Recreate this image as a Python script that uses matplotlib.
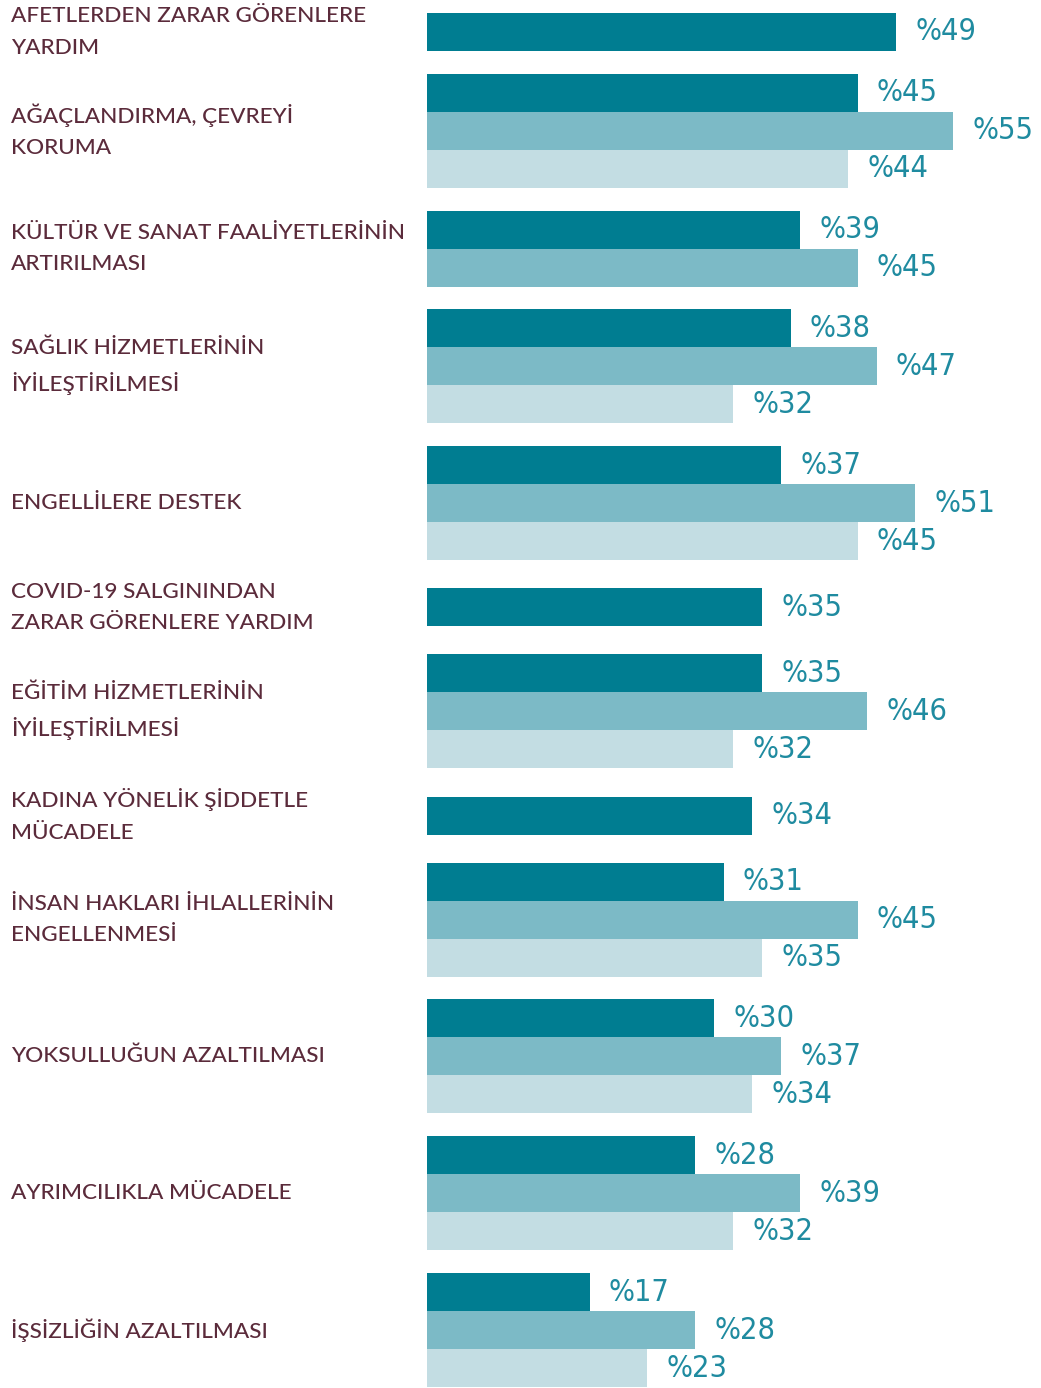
import matplotlib.pyplot as plt
from matplotlib import font_manager

categories = [
    "AFETLERDEN ZARAR GÖRENLERE\nYARDIM",
    "AĞAÇLANDIRMA, ÇEVREYİ\nKORUMA",
    "KÜLTÜR VE SANAT FAALİYETLERİNİN\nARTIRILMASI",
    "SAĞLIK HİZMETLERİNİN\nİYİLEŞTİRİLMESİ",
    "ENGELLİLERE DESTEK",
    "COVID-19 SALGININDAN\nZARAR GÖRENLERE YARDIM",
    "EĞİTİM HİZMETLERİNİN\nİYİLEŞTİRİLMESİ",
    "KADINA YÖNELİK ŞİDDETLE\nMÜCADELE",
    "İNSAN HAKLARI İHLALLERİNİN\nENGELLENMESİ",
    "YOKSULLUĞUN AZALTILMASI",
    "AYRIMCILIKLA MÜCADELE",
    "İŞSİZLİĞİN AZALTILMASI",
]
# None = no bar for that series
series_1 = [49, 45, 39, 38, 37, 35, 35, 34, 31, 30, 28, 17]
series_2 = [None, 55, 45, 47, 51, None, 46, None, 45, 37, 39, 28]
series_3 = [None, 44, None, 32, 45, None, 32, None, 35, 34, 32, 23]

colors = ["#007d91", "#7cbac6", "#c3dde3"]
label_color = "#5b2b3b"
value_color = "#1f8ba0"

names = {f.name for f in font_manager.fontManager.ttflist}
cat_font = "Lato" if "Lato" in names else "DejaVu Sans"

W, H, DPI = 1041, 1388, 100
bar_px = 38
fig = plt.figure(figsize=(W / DPI, H / DPI), dpi=DPI)
left = 427 / W
ax = fig.add_axes([left, 0, 1 - left, 1])
xmax = (W - 427) / 9.57
ax.set_xlim(0, xmax)
ax.set_ylim(H / bar_px, 0)
ax.axis("off")

gap = 0.6
pad = 0.14
y = 13 / bar_px
for i, cat in enumerate(categories):
    vals = [s[i] for s in (series_1, series_2, series_3)]
    n = sum(v is not None for v in vals)
    extra = pad if (n == 1 and i > 0) else 0
    y += extra
    top = y
    k = 0
    for j, v in enumerate(vals):
        if v is None:
            continue
        yc = y + k + 0.5
        ax.barh(yc, v, height=1.0, color=colors[j], edgecolor="none")
        ax.text(v + 2.0, yc, f"%{v}", ha="left", va="center",
                fontsize=22, color=value_color, family="DejaVu Sans",
                fontstretch="condensed", fontweight="light")
        k += 1
    center = top + n / 2
    fig.text(11 / W, 1 - center * bar_px / H, cat, ha="left", va="center",
             fontsize=16.2, color=label_color, family=cat_font,
             fontweight="medium", linespacing=1.7)
    y = top + n + extra + gap

fig.savefig("out.png", dpi=DPI, facecolor="white")
